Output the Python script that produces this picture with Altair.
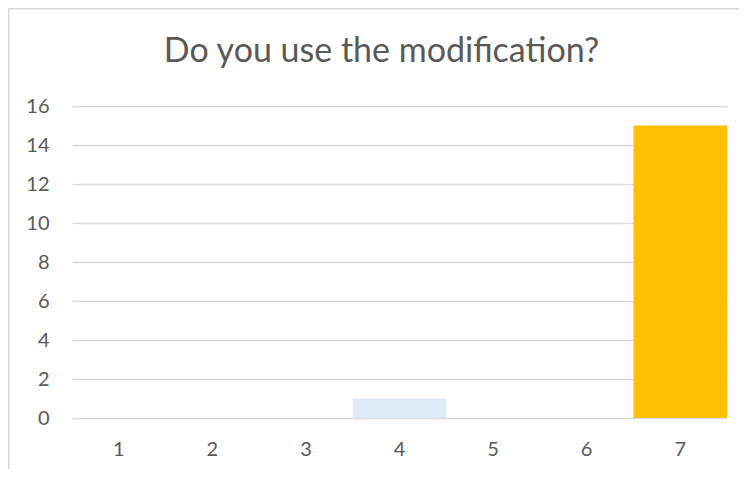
import altair as alt
import pandas as pd

categories = ["1", "2", "3", "4", "5", "6", "7"]
counts = [0, 0, 0, 1, 0, 0, 15]
bar_colors = ["#DEEBF7", "#DEEBF7", "#DEEBF7", "#DEEBF7", "#DEEBF7", "#DEEBF7", "#FFC000"]
y_ticks = [0, 2, 4, 6, 8, 10, 12, 14, 16]
title_text = "Do you use the modification?"

df = pd.DataFrame({"answer": categories, "count": counts})

FONT = "Lato"
TXT = "#595959"
GRID = "#D9D9D9"

bars = alt.Chart(df).mark_bar(size=93.6).encode(
    x=alt.X(
        "answer:N",
        sort=categories,
        scale=alt.Scale(domain=categories, paddingInner=0, paddingOuter=0),
        axis=alt.Axis(
            title=None, labelAngle=0, ticks=False, domain=False, grid=False,
            labelFont=FONT, labelFontSize=20, labelColor=TXT, labelPadding=21,
        ),
    ),
    y=alt.Y(
        "count:Q",
        scale=alt.Scale(domain=[0, 16], nice=False),
        axis=alt.Axis(
            title=None, values=y_ticks, ticks=False, domain=False, grid=True,
            gridColor=GRID, gridWidth=1.3,
            labelFont=FONT, labelFontSize=20, labelColor=TXT, labelPadding=23,
        ),
    ),
    color=alt.Color(
        "answer:N",
        scale=alt.Scale(domain=categories, range=bar_colors),
        legend=None,
    ),
)

one = pd.DataFrame({"a": [0]})

frame = alt.Chart(one).mark_rect(
    fillOpacity=0, stroke=GRID, strokeWidth=1.6
).encode(
    x=alt.value(-63.2), x2=alt.value(720), y=alt.value(-97.2), y2=alt.value(520)
)

title = alt.Chart(one).mark_text(
    font=FONT, fontSize=34, color=TXT, align="center", baseline="alphabetic"
).encode(
    x=alt.value(309.5), y=alt.value(-44), text=alt.value(title_text)
)

chart = alt.layer(bars, frame, title).properties(
    width=655,
    height=312,
    background="white",
    autosize=alt.AutoSizeParams(type="none"),
    padding={"left": 64, "top": 98, "right": 12, "bottom": 51},
).configure_view(strokeWidth=0, stroke="transparent")

chart.save("out.html", embed_options={"renderer": "svg", "actions": False})
